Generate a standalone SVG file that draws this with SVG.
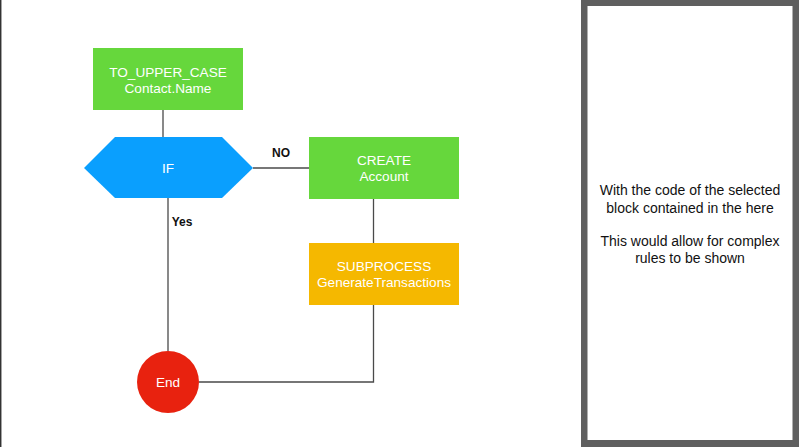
<svg xmlns="http://www.w3.org/2000/svg" width="800" height="447" viewBox="0 0 800 447">
<style>
.lbl{font-family:"Liberation Sans",Arial,sans-serif;font-size:13.6px;fill:#ffffff;text-anchor:middle}
.edge{stroke:#4a4a4a;stroke-width:1.3;fill:none}
.elbl{font-family:"Liberation Sans",Arial,sans-serif;font-size:12px;font-weight:bold;fill:#111111;text-anchor:middle}
.note{font-family:"Liberation Sans",Arial,sans-serif;font-size:14px;fill:#111111;text-anchor:middle}
.green{fill:#66d73c}
</style>
<rect x="0" y="0" width="800" height="447" fill="#ffffff"/>
<line x1="0.7" y1="0" x2="0.7" y2="447" stroke="#333333" stroke-width="1.5"/>
<g id="side-panel">
<rect x="581" y="0" width="218" height="447" fill="#5f5f5f"/>
<rect x="587.5" y="6" width="205" height="434" fill="#ffffff"/>
<text class="note" x="690" y="195">With the code of the selected</text>
<text class="note" x="690" y="213">block contained in the here</text>
<text class="note" x="690" y="246">This would allow for complex</text>
<text class="note" x="690" y="263">rules to be shown</text>
</g>
<g id="connectors">
<line class="edge" x1="163" y1="110" x2="163" y2="137"/>
<line class="edge" x1="253" y1="168" x2="309" y2="168"/>
<line class="edge" x1="168" y1="198" x2="168" y2="351"/>
<line class="edge" x1="373.5" y1="199" x2="373.5" y2="243"/>
<polyline class="edge" points="373.5,305 373.5,382 199,382"/>
<text class="elbl" x="281" y="157">NO</text>
<text class="elbl" x="182" y="226">Yes</text>
</g>
<g id="to-upper-case">
<rect class="green" x="93" y="48" width="150" height="62"/>
<text class="lbl" x="168" y="77">TO_UPPER_CASE</text>
<text class="lbl" x="168" y="93">Contact.Name</text>
</g>
<g id="if">
<polygon points="84,168 115,137 222,137 253,168 222,198 115,198" fill="#0a9ffe"/>
<text class="lbl" x="168" y="173">IF</text>
</g>
<g id="create-account">
<rect class="green" x="309" y="137" width="150" height="62"/>
<text class="lbl" x="384" y="165">CREATE</text>
<text class="lbl" x="384" y="181">Account</text>
</g>
<g id="subprocess">
<rect x="309" y="243" width="150" height="62" fill="#f5b800"/>
<text class="lbl" x="384" y="271">SUBPROCESS</text>
<text class="lbl" x="384" y="287">GenerateTransactions</text>
</g>
<g id="end">
<circle cx="168" cy="382" r="31" fill="#e8220f"/>
<text class="lbl" x="168" y="387">End</text>
</g>
</svg>
